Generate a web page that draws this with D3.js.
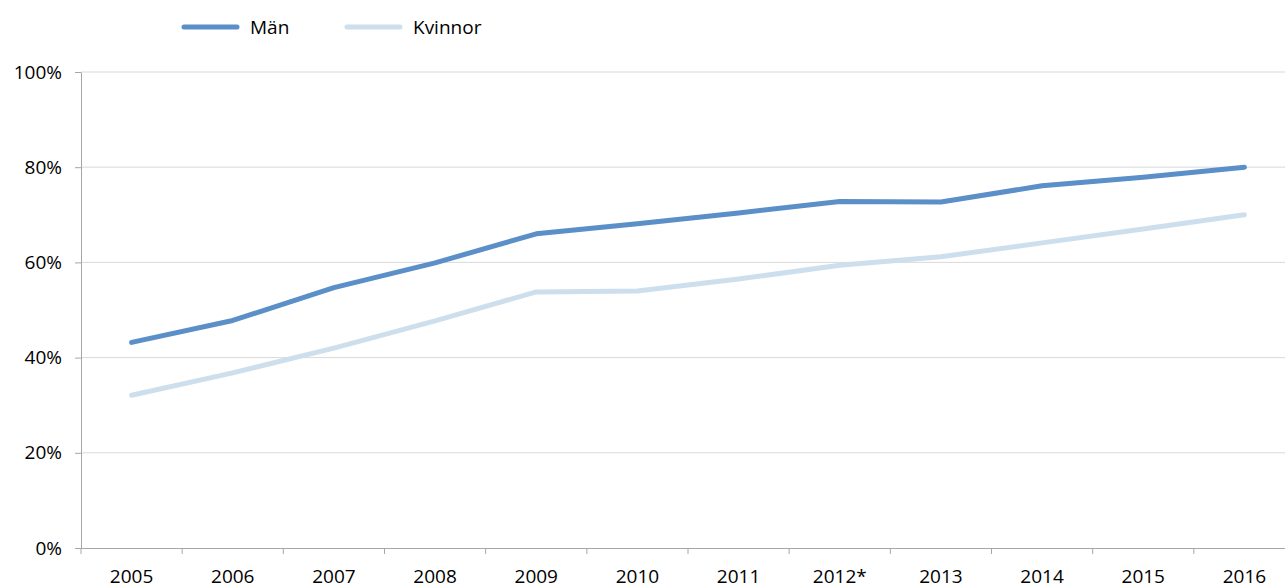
<!DOCTYPE html>
<html><head><meta charset="utf-8">
<script src="https://cdn.jsdelivr.net/npm/d3@7"></script>
<style>body{margin:0;background:#fff;}svg{display:block;font-family:"Open Sans",sans-serif;}</style>
</head><body><svg id="c" width="1285" height="588"></svg>
<script>
const years = ["2005","2006","2007","2008","2009","2010","2011","2012*","2013","2014","2015","2016"];
const man = [43.2,47.8,54.7,59.9,66.0,68.1,70.4,72.8,72.7,76.1,77.9,80.0];
const kvinnor = [32.1,36.8,42.0,47.7,53.8,54.0,56.5,59.4,61.2,64.1,67.0,70.0];
const yTicks = [0,20,40,60,80,100];
const seriesNames = ["Män","Kvinnor"];
const colors = ["#5b8fc7","#cddfed"];

(function(){
const svg = d3.select("#c");
const mLeft = 81, mRight = 1295, mTop = 72, mBottom = 548;
const fs = 19;
const x = d3.scaleBand().domain(years).range([mLeft, mRight]);
const y = d3.scaleLinear().domain([0,100]).range([mBottom, mTop]);

svg.append("g").selectAll("line").data(yTicks.filter(d=>d>0)).join("line")
  .attr("x1", mLeft).attr("x2", mRight).attr("y1", d=>y(d)).attr("y2", d=>y(d))
  .attr("stroke","#d9d9d9").attr("stroke-width",1);

const ya = svg.append("g").attr("transform",`translate(${mLeft},0)`)
  .call(d3.axisLeft(y).tickValues(yTicks).tickFormat(d=>d+"%").tickSize(6).tickSizeOuter(0));
ya.select(".domain").attr("stroke","#a6a6a6");
ya.selectAll(".tick line").attr("stroke","#a6a6a6");
ya.selectAll("text").attr("font-size",fs).attr("fill","#000").attr("x",-19).attr("font-family","Open Sans, sans-serif");

const xa = svg.append("g").attr("transform",`translate(0,${mBottom})`)
  .call(d3.axisBottom(x).tickSize(0).tickSizeOuter(0));
xa.select(".domain").attr("stroke","#a6a6a6");
xa.selectAll("text").attr("font-size",fs).attr("fill","#000").attr("y",35).attr("dy",0).attr("font-family","Open Sans, sans-serif");
svg.append("g").selectAll("line").data(years).join("line")
  .attr("x1", d=>x(d)).attr("x2", d=>x(d)).attr("y1", mBottom).attr("y2", mBottom+6)
  .attr("stroke","#a6a6a6");

const line = d3.line().x((d,i)=>x(years[i])+x.bandwidth()/2).y(d=>y(d));
[man, kvinnor].forEach((s,k)=>{
  svg.append("path").datum(s).attr("d", line).attr("fill","none")
    .attr("stroke", colors[k]).attr("stroke-width",5).attr("stroke-linecap","round").attr("stroke-linejoin","round");
});

const lg = svg.append("g");
const lx = [184, 347];
seriesNames.forEach((n,k)=>{
  lg.append("line").attr("x1",lx[k]).attr("x2",lx[k]+53).attr("y1",27).attr("y2",27)
    .attr("stroke",colors[k]).attr("stroke-width",5).attr("stroke-linecap","round");
  lg.append("text").attr("x",lx[k]+66).attr("y",34).attr("font-size",fs).text(n);
});
})();
</script></body></html>
